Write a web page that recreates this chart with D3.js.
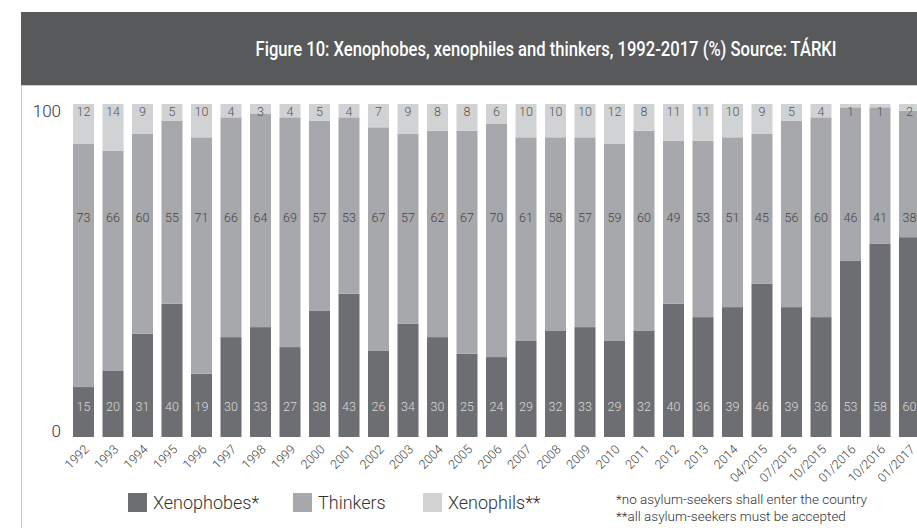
<!DOCTYPE html>
<html>
<head>
<meta charset="utf-8">
<script src="https://cdn.jsdelivr.net/npm/d3@7"></script>
<style>
  body { margin: 0; background: #fff; }
  svg { display: block; font-family: Roboto, "Liberation Sans", sans-serif; }
</style>
</head>
<body>
<svg width="917" height="528"></svg>
<script>
var periods = ["1992","1993","1994","1995","1996","1997","1998","1999","2000","2001",
  "2002","2003","2004","2005","2006","2007","2008","2009","2010","2011","2012","2013",
  "2014","04/2015","07/2015","10/2015","01/2016","10/2016","01/2017"];
var xenophobes = [15,20,31,40,19,30,33,27,38,43,26,34,30,25,24,29,32,33,29,32,40,36,39,46,39,36,53,58,60];
var thinkers   = [73,66,60,55,71,66,64,69,57,53,67,57,62,67,70,61,58,57,59,60,49,53,51,45,56,60,46,41,38];
var xenophils  = [12,14,9,5,10,4,3,4,5,4,7,9,8,8,6,10,10,10,12,8,11,11,10,9,5,4,1,1,2];
var seriesNames = ["Xenophobes*", "Thinkers", "Xenophils**"];
var yTicks = [0, 100];

var svg = d3.select("svg"),
    width = +svg.attr("width"),
    height = +svg.attr("height");

var colors = ["#6d6e71", "#a7a8ab", "#d1d2d4"],
    labelColors = ["#d9dadb", "#444", "#555"];

var table = periods.map(function (p, i) {
  return { period: p, "Xenophobes*": xenophobes[i], "Thinkers": thinkers[i], "Xenophils**": xenophils[i] };
});

// frame + header
svg.append("rect").attr("x", 21).attr("y", 12).attr("width", width - 21).attr("height", 73).attr("fill", "#58595b");
svg.append("line").attr("x1", 21).attr("x2", width).attr("y1", 85.5).attr("y2", 85.5).attr("stroke", "#c9cacc");
svg.append("line").attr("x1", 21.5).attr("x2", 21.5).attr("y1", 85).attr("y2", height).attr("stroke", "#c9cacc");
// condensed look: squeeze horizontally
svg.append("text")
  .attr("transform", "translate(546,56) scale(0.83,1)")
  .attr("text-anchor", "middle")
  .attr("fill", "#fff")
  .attr("font-size", 20)
  .attr("font-weight", 500)
  .text("Figure 10: Xenophobes, xenophiles and thinkers, 1992-2017 (%) Source: TÁRKI");

var x = d3.scaleBand()
  .domain(periods)
  .range([73, 73 + 28 * 29.5 + 21])
  .paddingInner(8.5 / 29.5)
  .paddingOuter(0);

var y = d3.scaleLinear().domain([0, 100]).range([437, 104]);

var stack = d3.stack().keys(seriesNames)(table);

var g = svg.append("g");
g.selectAll("g.series")
  .data(stack)
  .enter().append("g")
    .attr("class", "series")
    .attr("fill", function (d, i) { return colors[i]; })
  .selectAll("rect")
  .data(function (d) { return d; })
  .enter().append("rect")
    .attr("x", function (d) { return x(d.data.period); })
    .attr("width", x.bandwidth())
    .attr("y", function (d) { return y(d[1]); })
    .attr("height", function (d) { return y(d[0]) - y(d[1]); });

// value labels sit at fixed heights
var labelY = [407, 218, 112];
stack.forEach(function (s, i) {
  g.selectAll("text.v" + i)
    .data(s)
    .enter().append("text")
      .attr("class", "v" + i)
      .attr("x", function (d) { return x(d.data.period) + x.bandwidth() / 2; })
      .attr("y", labelY[i])
      .attr("dy", "0.35em")
      .attr("text-anchor", "middle")
      .attr("font-size", 12.5)
      .attr("font-weight", 300)
      .attr("fill", labelColors[i])
      .text(function (d) { return d.data[s.key]; });
});

// y tick labels
svg.selectAll("text.ytick")
  .data(yTicks)
  .enter().append("text")
    .attr("class", "ytick")
    .attr("x", 61)
    .attr("y", function (d) { return y(d) + (d === 0 ? -6 : 7); })
    .attr("dy", "0.35em")
    .attr("text-anchor", "end")
    .attr("font-size", 17)
    .attr("font-weight", 300)
    .attr("fill", "#333")
    .text(function (d) { return d; });

// x axis labels
svg.selectAll("text.xlab")
  .data(periods)
  .enter().append("text")
    .attr("class", "xlab")
    .attr("transform", function (d) {
      return "translate(" + (x(d) + x.bandwidth() / 2 + 3) + ",447) rotate(-45)";
    })
    .attr("text-anchor", "end")
    .attr("dy", "0.35em")
    .attr("font-size", 12.5)
    .attr("font-weight", 300)
    .attr("fill", "#444")
    .text(function (d) { return d; });

// legend
var legendX = [128, 293, 423];
var legend = svg.selectAll("g.legend")
  .data(seriesNames)
  .enter().append("g")
    .attr("class", "legend")
    .attr("transform", function (d, i) { return "translate(" + legendX[i] + ",493)"; });
legend.append("rect")
  .attr("width", 19).attr("height", 19)
  .attr("fill", function (d, i) { return colors[i]; });
legend.append("text")
  .attr("x", 25).attr("y", 10)
  .attr("dy", "0.35em")
  .attr("font-size", 18)
  .attr("font-weight", 300)
  .attr("fill", "#333")
  .text(function (d) { return d; });

// footnotes
svg.append("text").attr("x", 616).attr("y", 504)
  .attr("font-size", 13.5).attr("font-weight", 300).attr("fill", "#333")
  .text("*no asylum-seekers shall enter the country");
svg.append("text").attr("x", 616).attr("y", 521)
  .attr("font-size", 13.5).attr("font-weight", 300).attr("fill", "#333")
  .text("**all asylum-seekers must be accepted");
</script>
</body>
</html>
